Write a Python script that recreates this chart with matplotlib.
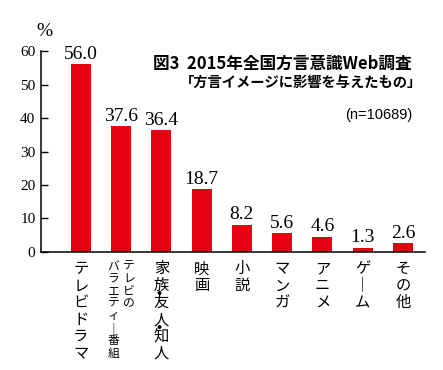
import numpy as np
import matplotlib
matplotlib.use("Agg")
import matplotlib.pyplot as plt

JP = "Noto Sans CJK JP"
SERIF = "Liberation Serif"

labels = ["テレビドラマ", "テレビのバラエティー番組", "家族・友人・知人", "映画", "小説",
          "マンガ", "アニメ", "ゲーム", "その他"]
values = [56.0, 37.6, 36.4, 18.7, 8.2, 5.6, 4.6, 1.3, 2.6]
value_text = ["56.0", "37.6", "36.4", "18.7", "8.2", "5.6", "4.6", "1.3", "2.6"]
yticks = [0, 10, 20, 30, 40, 50, 60]

title1 = "図3  2015年全国方言意識Web調査"
title2 = "「方言イメージに影響を与えたもの」"
note = "(n=10689)"

RED = "#e50012"


def vtext(ax, x, s, dx=0, size=11, step=12.2, start=-6):
    # stack characters downward below the x axis (offsets in points)
    i = 0
    for ch in s:
        if ch == "・":
            # middle dot squeezed between two characters, as in the original
            ax.annotate("・", (x, 0), xytext=(dx - 1.5, start - step * i), textcoords="offset points",
                        ha="center", va="center", fontsize=size, family=JP, fontweight="bold")
            continue
        if ch == "ー":
            ch = "｜"
        ax.annotate(ch, (x, 0), xytext=(dx, start - step * (i + 0.5)), textcoords="offset points",
                    ha="center", va="center", fontsize=size, family=JP)
        i += 1


fig = plt.figure(figsize=(4.43, 3.70), dpi=100)
ax = fig.add_axes([0.0926, 0.319, 0.866, 0.543])

x = np.arange(len(values))
ax.bar(x, values, width=0.5, color=RED)

for xi, v, t in zip(x, values, value_text):
    ax.annotate(t, (xi, v), xytext=(0, 1), textcoords="offset points",
                ha="center", va="bottom", fontsize=14, family=SERIF)

ax.set_xlim(-0.99, 8.54)
ax.set_ylim(0, 60)
ax.set_yticks(yticks)
ax.set_yticklabels([str(t) for t in yticks], family=SERIF, fontsize=11)
ax.tick_params(axis="y", direction="in", length=5, width=1, pad=4)
ax.set_xticks([])
for sp in ["top", "right"]:
    ax.spines[sp].set_visible(False)
for sp in ["left", "bottom"]:
    ax.spines[sp].set_linewidth(1.1)

for i, lab in enumerate(labels):
    if i == 1:
        vtext(ax, i, "テレビの", dx=5.5, size=8.5, step=8.9)
        vtext(ax, i, "バラエティー番組", dx=-5.5, size=8.5, step=8.9)
    else:
        vtext(ax, i, lab)

fig.text(44 / 443, 1 - 32 / 370, "%", ha="center", va="center", fontsize=14, family=SERIF)
fig.text(153 / 443, 1 - 64 / 370, title1, ha="left", va="center", fontsize=12,
         family=JP, fontweight="bold")
fig.text(422 / 443, 1 - 83 / 370, title2, ha="right", va="center", fontsize=10.3,
         family=JP, fontweight="bold")
fig.text(412 / 443, 1 - 115 / 370, note, ha="right", va="center", fontsize=10.5,
         family=["Liberation Sans", "DejaVu Sans"])

fig.savefig("out.png", dpi=100)
